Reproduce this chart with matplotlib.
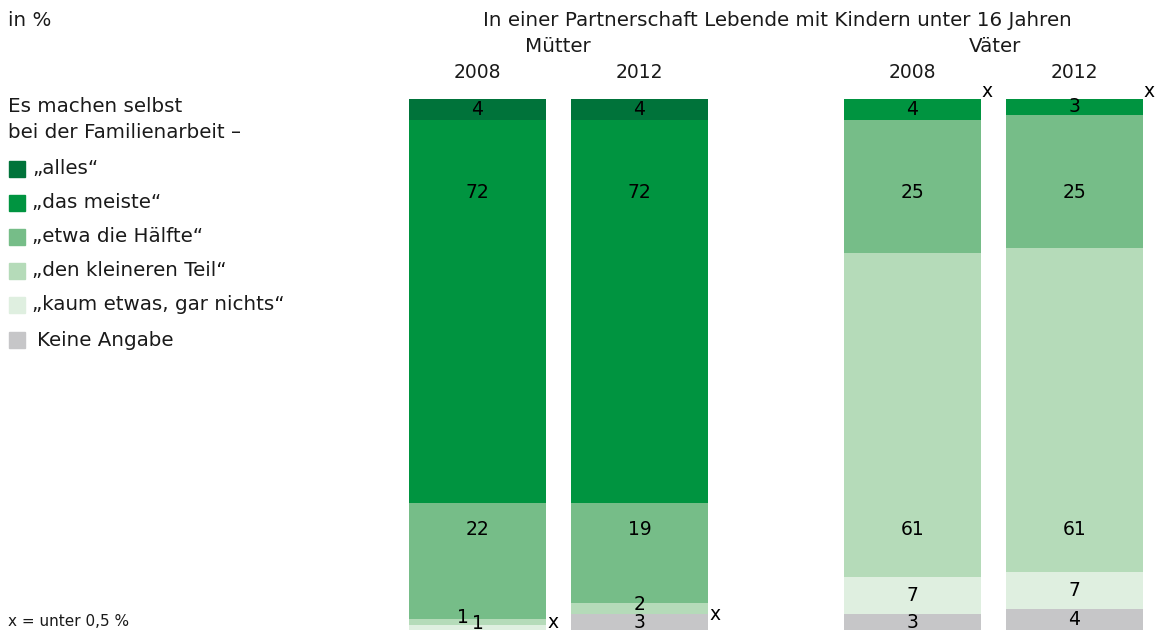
import numpy as np
import matplotlib
matplotlib.use("Agg")
from matplotlib import pyplot as plt
from matplotlib.patches import Rectangle

# data
kategorien = ["\u201ealles\u201c", "\u201edas meiste\u201c", "\u201eetwa die H\u00e4lfte\u201c",
              "\u201eden kleineren Teil\u201c", "\u201ekaum etwas, gar nichts\u201c", "Keine Angabe"]
gruppen = ["M\u00fctter", "V\u00e4ter"]
jahre = ["2008", "2012", "2008", "2012"]
# 0 = unter 0,5 % (als x markiert)
muetter_2008 = [4, 72, 22, 1, 1, 0]
muetter_2012 = [4, 72, 19, 2, 0, 3]
vaeter_2008 = [0, 4, 25, 61, 7, 3]
vaeter_2012 = [0, 3, 25, 61, 7, 4]
farben = ["#00733a", "#009440", "#76bd88", "#b5dbb9", "#dfefe0", "#c6c6c8"]

reihen = [muetter_2008, muetter_2012, vaeter_2008, vaeter_2012]
pos = [0, 1, 2.685, 3.685]
breite = 0.846
# feste Zeilen fuer Beschriftung grosser Segmente
label_zeilen = [17.7, 81.0]

W, H = 1158, 631
fig = plt.figure(figsize=(W / 100, H / 100), dpi=100)
plt.rcParams['font.family'] = ['DejaVu Sans']
txtfarbe = "#1a1a1a"
fs = 14.3
fs_zahl = 13.5

def fx(px):
    return px / W

def fy(py):
    return 1 - py / H

ax = fig.add_axes([fx(409), fy(630), fx(1143) - fx(409), fy(99) - fy(630)])
ax.set_xlim(pos[0] - breite / 2, pos[-1] + breite / 2)
ax.set_ylim(100, 0)
ax.axis("off")

for i, werte in enumerate(reihen):
    unten = 0
    for k, v in enumerate(werte):
        if v > 0:
            ax.bar(pos[i], v, bottom=unten, width=breite, color=farben[k], linewidth=0)
            dx = 0
            ly = unten + v / 2
            if v > 15:
                for z in label_zeilen:
                    if unten < z < unten + v:
                        ly = z
                        break
            if v <= 2:
                ly -= 0.8
            # kleine Segmente bei Muetter 2008 versetzt beschriften
            if i == 0 and k == 3:
                dx = -0.09
            ax.text(pos[i] + dx, ly, str(v), ha="center", va="center",
                    fontsize=fs_zahl, color="black", clip_on=False)
        else:
            if unten == 0:
                yy = -1.4
            elif unten >= 100:
                yy = unten - 1.4
            else:
                yy = unten
            ax.text(pos[i] + breite / 2 + 0.04, yy, "x", ha="center", va="center",
                    fontsize=fs_zahl, color="black", clip_on=False)
        unten += v

# Ueberschriften
fig.text(fx(8), fy(20), "in %", fontsize=fs, color=txtfarbe, va="center")
fig.text(fx(777), fy(20), "In einer Partnerschaft Lebende mit Kindern unter 16 Jahren",
         fontsize=fs, color=txtfarbe, ha="center", va="center")
fig.text(fx(558), fy(47), gruppen[0], fontsize=fs, color=txtfarbe, ha="center", va="center")
fig.text(fx(995), fy(47), gruppen[1], fontsize=fs, color=txtfarbe, ha="center", va="center")
for i, j in enumerate(jahre):
    xd = ax.transData.transform((pos[i], 0))[0]
    fig.text(xd / W, fy(73), j, fontsize=fs_zahl, color=txtfarbe, ha="center", va="center")

# Legende
fig.text(fx(8), fy(106), "Es machen selbst", fontsize=fs, color=txtfarbe, va="center")
fig.text(fx(8), fy(133), "bei der Familienarbeit \u2013", fontsize=fs, color=txtfarbe, va="center")
ly = [169, 203, 237, 271, 305, 340]
for k, name in enumerate(kategorien):
    fig.patches.append(Rectangle((fx(9), fy(ly[k] + 8)), fx(16), 16 / H,
                                 transform=fig.transFigure, color=farben[k], figure=fig))
    tx = 37 if k == 5 else 32
    fig.text(fx(tx), fy(ly[k]), name, fontsize=fs, color=txtfarbe, va="center")

fig.text(fx(8), fy(622), "x = unter 0,5 %", fontsize=11, color=txtfarbe, va="center")

plt.savefig("out.png", dpi=100)
